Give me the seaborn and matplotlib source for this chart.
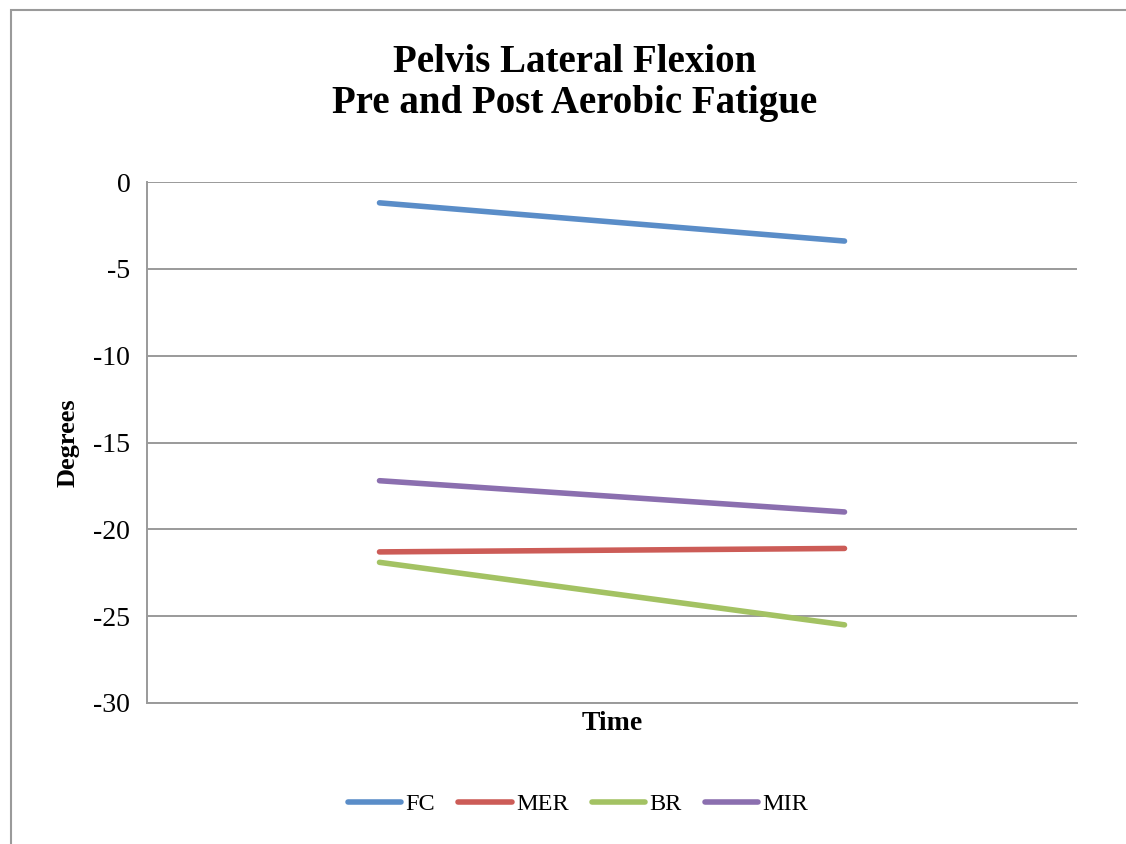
import matplotlib
matplotlib.use("Agg")
import matplotlib.pyplot as plt
import seaborn as sns
import pandas as pd
from matplotlib.patches import Rectangle

times = ["Pre", "Post"]
series = ["FC", "MER", "BR", "MIR"]
fc = [-1.2, -3.4]
mer = [-21.3, -21.1]
br = [-21.9, -25.5]
mir = [-17.2, -19.0]
colors = ["#5A8DC8", "#CC5C57", "#A3C263", "#8B6FAF"]

rows = []
for name, vals in zip(series, [fc, mer, br, mir]):
    for t, v in zip(times, vals):
        rows.append({"Time": t, "Degrees": v, "Series": name})
df = pd.DataFrame(rows)

sns.set_style("white")
plt.rcParams["font.family"] = ["Liberation Serif", "DejaVu Serif"]
plt.rcParams["text.color"] = "black"
plt.rcParams["axes.labelcolor"] = "black"
plt.rcParams["ytick.labelcolor"] = "black"

fig = plt.figure(figsize=(11.26, 8.44), dpi=100)
ax = fig.add_axes([147/1126, 1-703/844, (1077-147)/1126, (703-182)/844])

sns.lineplot(data=df, x="Time", y="Degrees", hue="Series", hue_order=series,
             palette=colors, linewidth=4.0, ax=ax, legend=True, sort=False)
for ln in ax.lines:
    ln.set_solid_capstyle("round")

ax.set_xlim(-0.5, 1.5)
ax.set_ylim(-30, 0)
ax.set_yticks([0, -5, -10, -15, -20, -25, -30])
ax.set_yticklabels(["0", "-5", "-10", "-15", "-20", "-25", "-30"])
ax.set_xticks([])
ax.yaxis.grid(True, color="#9a9a9a", linewidth=1.4)
ax.set_axisbelow(True)
for s in ["top", "right"]:
    ax.spines[s].set_visible(False)
for s in ["left", "bottom"]:
    ax.spines[s].set_color("#9a9a9a")
    ax.spines[s].set_linewidth(1.4)
ax.tick_params(axis="y", length=6, width=1.4, color="#9a9a9a", labelsize=20,
               labelcolor="black", pad=6)
ax.set_xlabel("Time", fontsize=20, fontweight="bold", labelpad=6, color="black")
ax.set_ylabel("Degrees", fontsize=19, fontweight="bold", labelpad=10, color="black")

fig.text(575/1126, 1-62/844, "Pelvis Lateral Flexion", ha="center", va="center",
         fontsize=28, fontweight="bold", color="black")
fig.text(575/1126, 1-103/844, "Pre and Post Aerobic Fatigue", ha="center", va="center",
         fontsize=28, fontweight="bold", color="black")

h, l = ax.get_legend_handles_labels()
ax.get_legend().remove()
leg = fig.legend(h, l, loc="center", bbox_to_anchor=(578/1126, 1-804/844), ncol=4,
                 frameon=False, fontsize=17.5, handlelength=2.2, handletextpad=0.18,
                 columnspacing=0.95)
for lh in leg.get_lines():
    lh.set_linewidth(4.0)
    lh.set_solid_capstyle("round")
for t in leg.get_texts():
    t.set_color("black")

fig.patches.append(Rectangle((11/1126, -0.1), 1.2, 1-10/844 + 0.1, transform=fig.transFigure,
                             fill=False, edgecolor="#9a9a9a", linewidth=1.5))

fig.savefig("out.png", dpi=100)
